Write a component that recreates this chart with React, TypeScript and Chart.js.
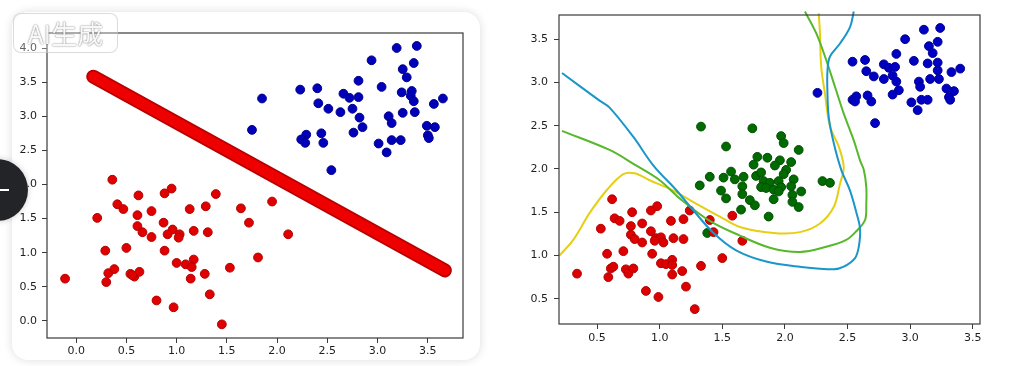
import React, { useEffect, useRef } from "react";
import { Chart, registerables } from "chart.js";

Chart.register(...registerables);

// ---------- Left chart data ----------
const leftXTicks = [0, 0.5, 1, 1.5, 2, 2.5, 3, 3.5];
const leftYTicks = [0, 0.5, 1, 1.5, 2, 2.5, 3, 3.5, 4];
const leftXRange = [-0.29, 3.85];
const leftYRange = [-0.25, 4.22];

const leftRed: number[][] = [
  [-0.11, 0.62], [0.36, 2.07], [0.21, 1.51], [0.41, 1.71], [0.47, 1.64], [0.62, 1.84],
  [0.61, 1.55], [0.61, 1.39], [0.66, 1.3], [0.75, 1.61], [0.75, 1.23], [0.88, 1.87],
  [0.95, 1.94], [0.87, 1.44], [0.96, 1.34], [0.91, 1.27], [1.03, 1.27], [1.02, 1.22],
  [1.13, 1.64], [1.29, 1.68], [1.39, 1.86], [1.17, 1.32], [1.31, 1.3], [0.29, 1.03],
  [0.5, 1.07], [0.88, 1.03], [0.32, 0.7], [0.38, 0.76], [0.3, 0.57], [0.54, 0.69],
  [0.58, 0.65], [0.63, 0.72], [0.56, 0.67], [1.0, 0.85], [1.09, 0.83], [1.17, 0.9],
  [1.15, 0.79], [1.14, 0.62], [1.28, 0.69], [1.33, 0.39], [0.8, 0.3], [0.97, 0.2],
  [1.45, -0.05], [1.53, 0.78], [1.64, 1.65], [1.72, 1.44], [1.95, 1.75], [2.11, 1.27],
  [1.81, 0.93],
];

const leftBlue: number[][] = [
  [1.85, 3.26], [1.75, 2.8], [2.23, 3.39], [2.4, 3.41], [2.41, 3.19], [2.51, 3.11],
  [2.63, 3.06], [2.66, 3.33], [2.72, 3.27], [2.81, 3.28], [2.81, 3.52], [2.75, 3.11],
  [2.82, 2.98], [2.85, 2.84], [2.76, 2.76], [2.94, 3.82], [3.04, 3.43], [3.19, 4.0],
  [3.39, 4.03], [3.36, 3.78], [3.25, 3.69], [3.29, 3.57], [3.24, 3.35], [3.34, 3.37],
  [3.33, 3.3], [3.36, 3.22], [3.25, 3.05], [3.37, 3.06], [3.56, 3.18], [3.65, 3.26],
  [3.11, 3.0], [3.14, 2.9], [3.14, 2.65], [3.23, 2.65], [3.01, 2.6], [3.09, 2.47],
  [3.49, 2.86], [3.57, 2.84], [3.5, 2.72], [3.51, 2.68], [2.29, 2.73], [2.24, 2.66],
  [2.28, 2.61], [2.44, 2.75], [2.46, 2.61], [2.54, 2.21],
];

const leftLine: number[][] = [[0.17, 3.58], [3.67, 0.74]];

// ---------- Right chart data ----------
const rightXTicks = [0.5, 1, 1.5, 2, 2.5, 3, 3.5];
const rightYTicks = [0.5, 1, 1.5, 2, 2.5, 3, 3.5];
const rightXRange = [0.196, 3.558];
const rightYRange = [0.208, 3.78];

const rightRed: number[][] = [
  [0.34, 0.79], [0.53, 1.31], [0.62, 1.65], [0.64, 1.43], [0.68, 1.4], [0.78, 1.5],
  [0.77, 1.34], [0.77, 1.24], [0.8, 1.19], [0.86, 1.37], [0.86, 1.15], [0.93, 1.52],
  [0.98, 1.57], [0.93, 1.28], [0.97, 1.2], [1.01, 1.21], [1.03, 1.15], [0.96, 1.17],
  [0.58, 1.02], [0.71, 1.05], [0.94, 1.02], [0.61, 0.85], [0.63, 0.87], [0.59, 0.75],
  [0.73, 0.84], [0.75, 0.79], [0.79, 0.85], [1.01, 0.91], [1.05, 0.9], [1.1, 0.95],
  [1.1, 0.89], [1.1, 0.78], [1.09, 1.4], [1.11, 1.2], [1.19, 1.42], [1.19, 1.19],
  [1.18, 0.82], [1.21, 0.64], [1.33, 0.88], [1.24, 1.52], [0.89, 0.59], [0.99, 0.52],
  [1.28, 0.38], [1.4, 1.41], [1.43, 1.27], [1.5, 0.97], [1.58, 1.46], [1.66, 1.17],
];

const rightGreen: number[][] = [
  [1.33, 2.49], [1.74, 2.47], [1.97, 2.38], [1.99, 2.3], [1.53, 2.26], [2.11, 2.22],
  [1.78, 2.14], [1.86, 2.13], [1.75, 2.05], [1.96, 2.1], [2.05, 2.08], [1.92, 2.04],
  [2.01, 1.99], [1.99, 1.94], [1.57, 1.97], [1.4, 1.91], [1.51, 1.9], [1.6, 1.88],
  [1.67, 1.91], [1.77, 1.92], [1.81, 1.96], [1.83, 1.86], [1.88, 1.84], [1.95, 1.86],
  [2.07, 1.88], [1.32, 1.81], [1.66, 1.8], [1.81, 1.79], [1.85, 1.78], [1.91, 1.76],
  [1.97, 1.79], [2.05, 1.8], [2.13, 1.74], [1.49, 1.75], [1.66, 1.71], [1.95, 1.74],
  [2.06, 1.7], [1.53, 1.66], [1.72, 1.64], [1.76, 1.58], [1.91, 1.65], [2.06, 1.62],
  [2.11, 1.56], [1.65, 1.53], [1.87, 1.45], [2.3, 1.86], [2.36, 1.84], [1.38, 1.26],
];

const rightBlue: number[][] = [
  [2.26, 2.88], [2.54, 3.24], [2.64, 3.26], [2.65, 3.13], [2.71, 3.07], [2.79, 3.04],
  [2.79, 3.21], [2.83, 3.17], [2.88, 3.18], [2.89, 3.33], [2.86, 3.08], [2.89, 3.01],
  [2.91, 2.91], [2.86, 2.86], [2.96, 3.5], [3.03, 3.25], [3.07, 3.01], [3.08, 2.95],
  [3.11, 3.61], [3.24, 3.63], [3.22, 3.47], [3.15, 3.42], [3.18, 3.34], [3.14, 3.22],
  [3.22, 3.23], [3.22, 3.14], [3.16, 3.04], [3.23, 3.04], [3.33, 3.12], [3.4, 3.16],
  [3.29, 2.93], [3.35, 2.9], [3.31, 2.83], [3.32, 2.8], [3.09, 2.8], [3.14, 2.8],
  [3.01, 2.77], [3.06, 2.68], [2.72, 2.53], [2.54, 2.8], [2.57, 2.84], [2.56, 2.78],
  [2.66, 2.85], [2.69, 2.78],
];

const blueCurve: number[][] = [
  [0.22, 3.11], [0.52, 2.79], [0.6, 2.71], [0.79, 2.37], [0.95, 2.04], [1.13, 1.76],
  [1.27, 1.52], [1.43, 1.26], [1.61, 1.06], [1.85, 0.93], [2.12, 0.87], [2.39, 0.84],
  [2.47, 0.87], [2.56, 0.97], [2.59, 1.1], [2.6, 1.31], [2.57, 1.5], [2.52, 1.75],
  [2.45, 1.99], [2.39, 2.3], [2.35, 2.6], [2.34, 2.87], [2.34, 3.14], [2.36, 3.3],
  [2.44, 3.45], [2.52, 3.64], [2.55, 3.82],
];

const greenCurve: number[][] = [
  [0.22, 2.44], [0.6, 2.22], [0.8, 2.05], [1.0, 1.87], [1.16, 1.66], [1.4, 1.4],
  [1.64, 1.23], [1.88, 1.09], [2.12, 1.04], [2.33, 1.1], [2.49, 1.18], [2.57, 1.28],
  [2.64, 1.41], [2.65, 1.6], [2.65, 1.79], [2.63, 1.99], [2.6, 2.1], [2.55, 2.33],
  [2.47, 2.64], [2.4, 2.95], [2.33, 3.26], [2.25, 3.57], [2.16, 3.82],
];

const yellowCurve: number[][] = [
  [0.2, 1.0], [0.31, 1.18], [0.44, 1.49], [0.58, 1.76], [0.71, 1.94], [0.8, 1.95],
  [0.92, 1.87], [1.11, 1.75], [1.29, 1.6], [1.48, 1.45], [1.64, 1.33], [1.91, 1.26],
  [2.12, 1.27], [2.28, 1.37], [2.39, 1.56], [2.44, 1.83], [2.47, 2.02], [2.43, 2.26],
  [2.36, 2.49], [2.32, 2.87], [2.29, 3.18], [2.28, 3.57], [2.27, 3.8],
];

// ---------- helpers ----------
const toXY = (arr: number[][]) => arr.map(([x, y]) => ({ x, y }));
const FONT = { family: "'DejaVu Sans', sans-serif", size: 11 };

const framePlugin = {
  id: "frame",
  afterDatasetsDraw(chart: any) {
    const { ctx, chartArea } = chart;
    const { left, top, right, bottom } = chartArea;
    ctx.save();
    ctx.strokeStyle = "#3a3a3a";
    ctx.lineWidth = 1.2;
    ctx.strokeRect(left, top, right - left, bottom - top);
    ctx.restore();
  },
};

function scatterSet(arr: number[][], fill: string, edge: string) {
  return {
    data: toXY(arr),
    backgroundColor: fill,
    borderColor: edge,
    borderWidth: 1,
    pointRadius: 4.4,
    showLine: false,
    order: 2,
  };
}

function curveSet(arr: number[][], color: string, width: number, order = 1, tension = 0.35) {
  return {
    data: toXY(arr),
    showLine: true,
    borderColor: color,
    backgroundColor: color,
    borderWidth: width,
    pointRadius: 0,
    tension,
    fill: false,
    order,
    clip: { left: 0, top: 4, right: 0, bottom: 0 },
  };
}

function axis(range: number[], ticks: number[], size: number, horizontal: boolean, pad: number) {
  return {
    type: "linear",
    min: range[0],
    max: range[1],
    afterBuildTicks: (s: any) => {
      s.ticks = ticks.map((v) => ({ value: v }));
    },
    afterFit: (s: any) => {
      if (horizontal) s.height = size;
      else s.width = size;
    },
    ticks: {
      font: FONT,
      color: "#1e1e1e",
      padding: pad,
      autoSkip: false,
      maxRotation: 0,
      callback: (v: any) => Number(v).toFixed(1),
    },
    grid: {
      drawOnChartArea: false,
      drawTicks: true,
      tickLength: 5,
      color: "#3a3a3a",
      lineWidth: 1,
    },
    border: { display: false },
  };
}

function baseOptions(padding: any, xs: any, ys: any) {
  return {
    responsive: false,
    animation: false,
    events: [],
    layout: { padding },
    plugins: { legend: { display: false }, tooltip: { enabled: false } },
    scales: { x: xs, y: ys },
  };
}

export default function App() {
  const leftRef = useRef<HTMLCanvasElement>(null);
  const rightRef = useRef<HTMLCanvasElement>(null);

  useEffect(() => {
    const left = new Chart(leftRef.current as HTMLCanvasElement, {
      type: "scatter",
      data: {
        datasets: [
          curveSet(leftLine, "#ee0000", 10.5, 0, 0),
          curveSet(leftLine, "#b80000", 14, 1, 0),
          scatterSet(leftRed, "#e00000", "#b00000"),
          scatterSet(leftBlue, "#0000bb", "#00008a"),
        ].map((d: any, i) => (i < 2 ? { ...d, borderCapStyle: "round" } : d)),
      } as any,
      options: baseOptions(
        { left: 0, top: 33, right: 15, bottom: 0 },
        axis(leftXRange, leftXTicks, 28, true, 2),
        axis(leftYRange, leftYTicks, 47, false, 5)
      ) as any,
      plugins: [framePlugin],
    });

    const right = new Chart(rightRef.current as HTMLCanvasElement, {
      type: "scatter",
      data: {
        datasets: [
          curveSet(blueCurve, "#1a96c9", 2),
          curveSet(greenCurve, "#56b82a", 2),
          curveSet(yellowCurve, "#e6cf12", 2),
          scatterSet(rightRed, "#dd0000", "#b00000"),
          scatterSet(rightGreen, "#006b00", "#004d00"),
          scatterSet(rightBlue, "#0000c4", "#000090"),
        ],
      } as any,
      options: baseOptions(
        { left: 0, top: 15, right: 29, bottom: 0 },
        axis(rightXRange, rightXTicks, 42, true, 3),
        axis(rightYRange, rightYTicks, 69, false, 6)
      ) as any,
      plugins: [framePlugin],
    });

    return () => {
      left.destroy();
      right.destroy();
    };
  }, []);

  return (
    <div
      style={{
        position: "absolute",
        left: 0,
        top: 0,
        width: 1009,
        height: 366,
        background: "#ffffff",
        overflow: "hidden",
      }}
    >
      <div
        style={{
          position: "absolute",
          left: 12,
          top: 12,
          width: 468,
          height: 348,
          borderRadius: 16,
          background: "#ffffff",
          boxShadow: "0 0 10px rgba(0,0,0,0.14)",
        }}
      />
      <canvas
        ref={leftRef}
        width={478}
        height={366}
        style={{ position: "absolute", left: 0, top: 0 }}
      />
      <canvas
        ref={rightRef}
        width={519}
        height={366}
        style={{ position: "absolute", left: 490, top: 0 }}
      />
      <div
        style={{
          position: "absolute",
          left: 13,
          top: 13,
          width: 105,
          height: 40,
          boxSizing: "border-box",
          borderRadius: 8,
          border: "1px solid rgba(190,190,190,0.55)",
          background: "rgba(255,255,255,0.3)",
          display: "flex",
          alignItems: "center",
          justifyContent: "center",
          fontFamily: "'Noto Sans CJK SC', 'Noto Sans', sans-serif",
          fontSize: 26,
          color: "rgba(255,255,255,0.95)",
          textShadow: "0 0 2px rgba(0,0,0,0.45), 0 0 1px rgba(0,0,0,0.3)",
          lineHeight: 1,
        }}
      >
        AI生成
      </div>
      <div
        style={{
          position: "absolute",
          left: -34,
          top: 159,
          width: 62,
          height: 62,
          borderRadius: "50%",
          background: "#232428",
          boxShadow: "0 0 6px rgba(0,0,0,0.2)",
        }}
      >
        <div
          style={{
            position: "absolute",
            left: 34,
            top: 30,
            width: 9,
            height: 2,
            background: "#ffffff",
          }}
        />
      </div>
    </div>
  );
}
